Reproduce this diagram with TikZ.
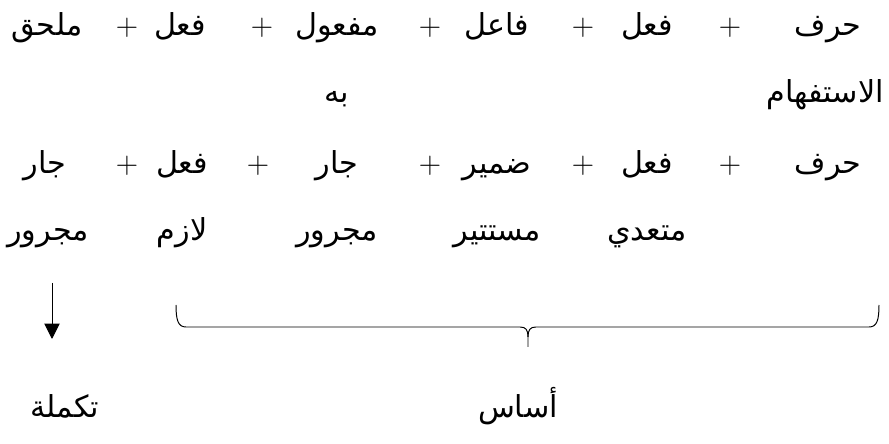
\documentclass[tikz,border=0pt]{standalone}
\usepackage{fontspec}
\newfontfamily\arabicfont[Script=Arabic]{DejaVu Sans}
\TeXXeTstate=1
\usetikzlibrary{arrows.meta}
\newcommand{\ar}[1]{\beginR#1\endR}

\begin{document}
\begin{tikzpicture}[x=0.025cm, y=-0.025cm,
        word/.style={anchor=base, inner sep=0pt,
                     font=\arabicfont\fontsize{21.5}{26}\selectfont},
        plus/.style={anchor=base, inner sep=0pt, font=\fontsize{22}{26}\selectfont},
        arr/.style={-{Triangle[width=11pt, length=11pt]}, line width=0.7pt},
        brc/.style={line width=0.7pt},
    ]
    \useasboundingbox (0,0) rectangle (889,444);

    % ---- First pattern ----
    \node[word] (harfA)  at (828,36) {\ar{حرف}};
    \node[plus] (pA1)    at (730,36) {+};
    \node[word] (filA)   at (647,36) {\ar{فعل}};
    \node[plus] (pA2)    at (583,36) {+};
    \node[word] (fail)   at (497,36) {\ar{فاعل}};
    \node[plus] (pA3)    at (430,36) {+};
    \node[word] (mafool) at (337,36) {\ar{مفعول}};
    \node[plus] (pA4)    at (262,36) {+};
    \node[word] (filB)   at (180,36) {\ar{فعل}};
    \node[plus] (pA5)    at (127,36) {+};
    \node[word] (mulhaq) at (47,36)  {\ar{ملحق}};

    \node[word] (istifham) at (825,103) {\ar{الاستفهام}};
    \node[word] (bihi)     at (337,103) {\ar{به}};

    % ---- Second pattern ----
    \node[word] (harfB)  at (828,174) {\ar{حرف}};
    \node[plus] (pB1)    at (730,174) {+};
    \node[word] (filC)   at (647,174) {\ar{فعل}};
    \node[plus] (pB2)    at (583,174) {+};
    \node[word] (damir)  at (497,174) {\ar{ضمير}};
    \node[plus] (pB3)    at (430,174) {+};
    \node[word] (jarA)   at (337,174) {\ar{جار}};
    \node[plus] (pB4)    at (258,174) {+};
    \node[word] (filD)   at (182,174) {\ar{فعل}};
    \node[plus] (pB5)    at (127,174) {+};
    \node[word] (jarB)   at (45,174)  {\ar{جار}};

    \node[word] (mutaaddi) at (647,241) {\ar{متعدي}};
    \node[word] (mustatir) at (497,241) {\ar{مستتير}};
    \node[word] (majrurA)  at (337,241) {\ar{مجرور}};
    \node[word] (lazim)    at (182,241) {\ar{لازم}};
    \node[word] (majrurB)  at (48,241)  {\ar{مجرور}};

    % ---- Labels ----
    \node[word] (takmila) at (65,418)  {\ar{تكملة}};
    \node[word] (asas)    at (518,418) {\ar{أساس}};

    % ---- Arrow and brace ----
    \coordinate (arrtop) at (52,283);
    \coordinate (arrend) at (52,339);
    \draw[arr] (arrtop) -- (arrend);

    \coordinate (brl) at (176,305);
    \coordinate (brr) at (879,305);
    \coordinate (brt) at (528,347);
    \draw[brc] (brl) .. controls (176,320) and (178,327) .. (186,327) -- (520,327)
        .. controls (526,327) and (528,330) .. (528,337) -- (brt);
    \draw[brc] (brr) .. controls (879,320) and (877,327) .. (869,327) -- (536,327)
        .. controls (530,327) and (528,330) .. (528,337);

\end{tikzpicture}
\end{document}
